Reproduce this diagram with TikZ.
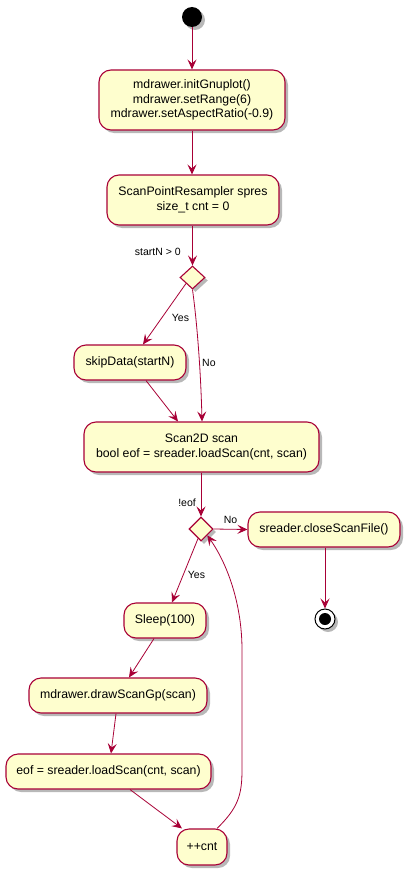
\documentclass[tikz,border=0pt]{standalone}
\usepackage{fontspec}
\setmainfont{Liberation Sans}
\usetikzlibrary{shapes.geometric,arrows.meta,shadows,calc}
\definecolor{umlred}{HTML}{A80036}
\definecolor{umlfill}{HTML}{FEFECE}
\tikzset{
  shad/.style={drop shadow={shadow xshift=3pt,shadow yshift=-3pt,opacity=0.28,fill=black}},
  act/.style={rectangle, rounded corners=12pt, draw=umlred, line width=1.1pt, fill=umlfill,
    align=center, inner sep=0pt, font=\fontsize{12.3}{14.5}\selectfont, shad},
  dec/.style={diamond, draw=umlred, line width=1.1pt, fill=umlfill, inner sep=0pt,
    minimum width=25pt, minimum height=23pt, shad},
  arr/.style={draw=umlred, line width=0.8pt, -{Stealth[length=10pt,width=9pt,inset=4pt]}},
  lbl/.style={font=\fontsize{10.5}{12}\selectfont, inner sep=0pt}
}
\begin{document}
\begin{tikzpicture}[x=1pt,y=-1pt]
\useasboundingbox[fill=white] (0,0) rectangle (410,875);

\node[circle, fill=black, minimum size=20pt, inner sep=0pt, shad] (start) at (192,17) {};

\node[act, minimum width=186pt, minimum height=60pt] (b1) at (192,100)
  {mdrawer.initGnuplot()\\mdrawer.setRange(6)\\mdrawer.setAspectRatio(-0.9)};
\node[act, minimum width=172pt, minimum height=50pt] (b2) at (193,200)
  {ScanPointResampler spres\\size\_t cnt = 0};
\node[dec] (d1) at (192.5,277.5) {};
\node[act, minimum width=112pt, minimum height=35pt] (skip) at (130,362.5) {skipData(startN)};
\node[act, minimum width=235pt, minimum height=50pt] (scan) at (201.5,447)
  {Scan2D scan\\bool eof = sreader.loadScan(cnt, scan)};
\node[dec, minimum width=24pt, minimum height=24pt] (d2) at (201,529) {};
\node[act, minimum width=152pt, minimum height=35pt] (close) at (324,529.5) {sreader.closeScanFile()};
\node[circle, draw=black, line width=1pt, fill=white, minimum size=20pt, inner sep=0pt, shad] (end) at (325,619) {};
\node[circle, fill=black, minimum size=12pt, inner sep=0pt] (endin) at (325,619) {};
\node[act, minimum width=82pt, minimum height=35pt] (sleep) at (165,620.5) {Sleep(100)};
\node[act, minimum width=178pt, minimum height=35pt] (draw) at (118,695.5) {mdrawer.drawScanGp(scan)};
\node[act, minimum width=205pt, minimum height=35pt] (eof) at (108.5,771.5) {eof = sreader.loadScan(cnt, scan)};
\node[act, minimum width=50pt, minimum height=36pt] (cnt) at (202,847) {++cnt};

\draw[arr] (start) -- (b1.north -| start);
\draw[arr] (b1.south) -- (b1.south |- b2.north);
\draw[arr] (b2.south -| d1) -- (d1.north);
\node[lbl, anchor=east] (l1) at (181,252) {startN > 0};
\draw[arr] (d1.south west) -- ([xshift=13pt]skip.north);
\node[lbl] (l2) at (180.5,318) {Yes};
\draw[arr] (d1.south) .. controls (198,330) and (201,380) .. ([xshift=0.5pt]scan.north);
\node[lbl, anchor=west] (l3) at (202,363) {No};
\draw[arr] ([xshift=16pt]skip.south) -- ([xshift=-23.5pt]scan.north);
\draw[arr] (scan.south -| d2) -- (d2.north);
\node[lbl, anchor=east] (l4) at (196,503) {!eof};
\draw[arr] (d2.east) -- (close.west);
\node[lbl] (l5) at (230.5,520) {No};
\draw[arr] (close.south -| end) -- (end.north);
\draw[arr] ([xshift=-3pt,yshift=3pt]d2.south) -- ([xshift=7pt]sleep.north);
\node[lbl] (l6) at (196.5,575) {Yes};
\draw[arr] ([xshift=-11pt]sleep.south) -- ([xshift=11pt]draw.north);
\draw[arr] ([xshift=-2pt]draw.south) -- ([xshift=2.5pt]eof.north);
\draw[arr] ([xshift=21.5pt]eof.south) -- ([xshift=-20pt]cnt.north);
\draw[arr] ([xshift=15pt]cnt.north) .. controls (238,808) and (242,795) .. (242,770)
  -- (242,650) .. controls (242,605) and (228,565) .. (d2.south east);
\end{tikzpicture}
\end{document}
